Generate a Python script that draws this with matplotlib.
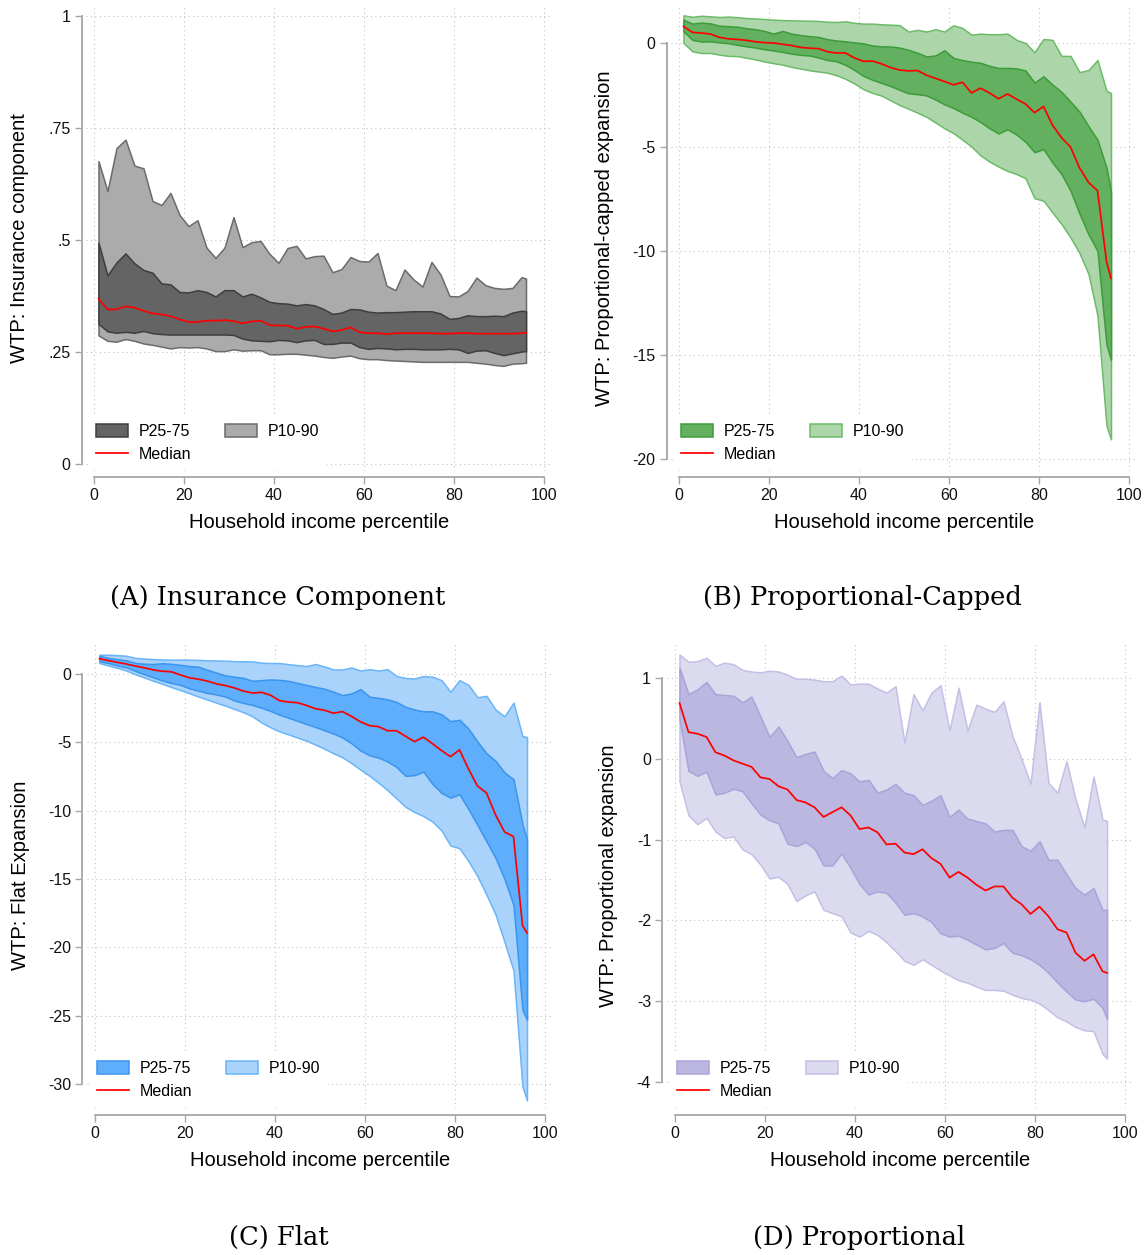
import matplotlib
matplotlib.use("Agg")
import matplotlib.pyplot as plt
import numpy as np

plt.rcParams["font.family"] = ["Liberation Sans", "DejaVu Sans"]

# percentile grid (household income percentile)
pct = list(range(1, 96, 2)) + [96]

# (A) insurance component
a_p90 = [0.676, 0.609, 0.705, 0.724, 0.666, 0.660, 0.587, 0.578, 0.605, 0.556,
         0.531, 0.544, 0.483, 0.460, 0.483, 0.551, 0.484, 0.495, 0.498, 0.469,
         0.449, 0.482, 0.487, 0.459, 0.464, 0.465, 0.428, 0.435, 0.462, 0.453,
         0.452, 0.471, 0.398, 0.388, 0.434, 0.412, 0.396, 0.451, 0.423, 0.375,
         0.374, 0.386, 0.416, 0.399, 0.393, 0.391, 0.393, 0.417, 0.414]
a_p75 = [0.494, 0.421, 0.450, 0.470, 0.448, 0.433, 0.427, 0.403, 0.401, 0.384,
         0.383, 0.388, 0.384, 0.374, 0.388, 0.388, 0.374, 0.380, 0.372, 0.362,
         0.359, 0.358, 0.354, 0.357, 0.354, 0.346, 0.335, 0.338, 0.346, 0.345,
         0.340, 0.338, 0.339, 0.339, 0.340, 0.341, 0.341, 0.341, 0.336, 0.324,
         0.326, 0.332, 0.330, 0.330, 0.331, 0.330, 0.338, 0.342, 0.341]
a_med = [0.369, 0.345, 0.345, 0.352, 0.349, 0.342, 0.336, 0.334, 0.330, 0.323,
         0.317, 0.317, 0.320, 0.320, 0.321, 0.319, 0.314, 0.318, 0.320, 0.310,
         0.309, 0.309, 0.302, 0.306, 0.307, 0.302, 0.296, 0.299, 0.305, 0.294,
         0.292, 0.292, 0.290, 0.292, 0.292, 0.292, 0.292, 0.292, 0.291, 0.291,
         0.292, 0.292, 0.291, 0.291, 0.291, 0.291, 0.291, 0.292, 0.293]
a_p25 = [0.313, 0.296, 0.293, 0.295, 0.293, 0.297, 0.292, 0.290, 0.289, 0.289,
         0.289, 0.289, 0.289, 0.289, 0.289, 0.288, 0.280, 0.276, 0.275, 0.274,
         0.277, 0.276, 0.272, 0.276, 0.277, 0.268, 0.268, 0.271, 0.271, 0.261,
         0.257, 0.259, 0.258, 0.256, 0.257, 0.257, 0.256, 0.256, 0.256, 0.257,
         0.256, 0.248, 0.253, 0.254, 0.248, 0.243, 0.247, 0.251, 0.252]
a_p10 = [0.287, 0.275, 0.273, 0.279, 0.275, 0.269, 0.266, 0.262, 0.258, 0.261,
         0.260, 0.261, 0.258, 0.252, 0.252, 0.256, 0.253, 0.254, 0.254, 0.245,
         0.245, 0.246, 0.246, 0.244, 0.242, 0.239, 0.237, 0.240, 0.242, 0.236,
         0.234, 0.234, 0.232, 0.231, 0.230, 0.229, 0.228, 0.228, 0.228, 0.228,
         0.228, 0.228, 0.226, 0.224, 0.221, 0.219, 0.224, 0.225, 0.226]

# (B) proportional-capped expansion
b_p90 = [1.33, 1.26, 1.31, 1.28, 1.25, 1.27, 1.24, 1.20, 1.18, 1.15,
         1.12, 1.10, 1.09, 1.08, 1.07, 1.06, 1.02, 1.01, 1.04, 0.97,
         0.93, 0.93, 0.90, 0.88, 0.86, 0.55, 0.63, 0.55, 0.66, 0.55,
         0.85, 0.72, 0.40, 0.45, 0.42, 0.42, 0.45, 0.15, 0.00, -0.45,
         0.19, 0.15, -0.62, -0.62, -1.40, -1.30, -0.82, -2.30, -2.41]
b_p75 = [1.12, 0.93, 0.98, 0.94, 0.83, 0.81, 0.78, 0.71, 0.66, 0.58,
         0.45, 0.58, 0.45, 0.38, 0.33, 0.29, 0.18, 0.12, 0.08, 0.03,
         -0.02, -0.12, -0.16, -0.17, -0.22, -0.33, -0.47, -0.65, -0.60, -0.35,
         -0.72, -0.82, -0.90, -0.95, -1.10, -1.20, -1.20, -1.22, -1.32, -1.90,
         -1.60, -2.00, -2.35, -2.82, -3.30, -4.00, -4.65, -6.00, -7.14]
b_med = [0.80, 0.51, 0.48, 0.43, 0.27, 0.20, 0.17, 0.13, 0.06, 0.02,
         0.00, -0.06, -0.12, -0.21, -0.25, -0.27, -0.42, -0.48, -0.48, -0.72,
         -0.88, -0.87, -1.00, -1.18, -1.30, -1.34, -1.32, -1.55, -1.70, -1.85,
         -2.01, -1.89, -2.40, -2.17, -2.40, -2.68, -2.45, -2.70, -2.93, -3.35,
         -3.05, -3.95, -4.55, -5.00, -6.00, -6.70, -7.10, -10.5, -11.32]
b_p25 = [0.56, 0.15, 0.07, 0.08, 0.03, -0.01, -0.09, -0.16, -0.22, -0.30,
         -0.36, -0.43, -0.51, -0.57, -0.60, -0.70, -0.82, -0.88, -1.05, -1.30,
         -1.58, -1.77, -1.92, -2.07, -2.25, -2.42, -2.46, -2.52, -2.72, -2.95,
         -3.13, -3.35, -3.55, -3.80, -4.10, -4.35, -4.15, -4.40, -4.75, -5.25,
         -5.10, -5.75, -6.30, -7.10, -8.20, -9.20, -10.0, -14.5, -15.24]
b_p10 = [0.00, -0.40, -0.48, -0.48, -0.56, -0.62, -0.63, -0.71, -0.79, -0.89,
         -0.97, -1.04, -1.15, -1.23, -1.31, -1.37, -1.43, -1.55, -1.72, -1.95,
         -2.22, -2.40, -2.53, -2.75, -2.98, -3.16, -3.35, -3.55, -3.82, -4.10,
         -4.33, -4.65, -4.98, -5.40, -5.70, -5.94, -6.15, -6.30, -6.50, -7.46,
         -7.58, -8.15, -8.70, -9.35, -10.1, -11.1, -13.1, -18.4, -19.05]

# (C) flat expansion
c_p90 = [1.41, 1.41, 1.38, 1.33, 1.18, 1.13, 1.09, 1.06, 1.05, 1.05,
         1.05, 1.03, 1.00, 0.99, 0.97, 0.94, 0.93, 0.92, 0.83, 0.80,
         0.80, 0.72, 0.65, 0.58, 0.73, 0.55, 0.33, 0.33, 0.47, 0.25,
         0.35, 0.25, 0.35, -0.15, -0.29, -0.33, -0.15, -0.20, -0.45, -1.30,
         -0.45, -0.80, -1.70, -1.60, -2.60, -3.10, -2.10, -4.55, -4.61]
c_p75 = [1.34, 1.17, 1.08, 1.00, 0.81, 0.75, 0.73, 0.79, 0.74, 0.67,
         0.58, 0.53, 0.30, 0.10, -0.10, -0.20, -0.29, -0.50, -0.45, -0.40,
         -0.43, -0.50, -0.65, -0.80, -0.95, -1.08, -1.30, -1.55, -1.42, -1.10,
         -1.66, -1.75, -1.85, -2.05, -2.40, -2.60, -2.73, -2.73, -2.95, -3.45,
         -3.35, -4.00, -4.95, -5.80, -6.35, -7.20, -7.70, -11.0, -12.12]
c_med = [1.12, 0.98, 0.85, 0.73, 0.58, 0.45, 0.30, 0.20, 0.16, -0.07,
         -0.28, -0.38, -0.52, -0.72, -0.85, -1.02, -1.25, -1.39, -1.34, -1.55,
         -1.95, -2.05, -2.10, -2.30, -2.54, -2.65, -2.87, -2.75, -3.10, -3.50,
         -3.78, -3.85, -4.15, -4.15, -4.55, -4.95, -4.62, -5.10, -5.60, -6.05,
         -5.55, -6.95, -8.20, -8.70, -10.3, -11.55, -11.9, -18.4, -18.95]
c_p25 = [0.93, 0.80, 0.62, 0.48, 0.22, -0.02, -0.25, -0.48, -0.66, -0.80,
         -1.05, -1.22, -1.39, -1.50, -1.65, -1.95, -2.12, -2.27, -2.47, -2.70,
         -2.98, -3.20, -3.43, -3.66, -3.88, -4.12, -4.36, -4.65, -5.07, -5.60,
         -5.95, -6.12, -6.40, -6.80, -7.45, -7.40, -7.15, -8.05, -8.70, -9.05,
         -8.80, -9.90, -11.05, -12.25, -13.45, -15.0, -16.9, -24.6, -25.3]
c_p10 = [0.80, 0.62, 0.45, 0.25, -0.02, -0.26, -0.50, -0.72, -0.96, -1.18,
         -1.41, -1.65, -1.87, -2.10, -2.32, -2.56, -2.80, -3.10, -3.55, -3.90,
         -4.20, -4.42, -4.65, -4.88, -5.17, -5.47, -5.80, -6.10, -6.52, -7.00,
         -7.45, -7.95, -8.50, -9.10, -9.72, -10.10, -10.40, -10.80, -11.45, -12.55,
         -12.75, -13.70, -14.80, -16.15, -17.60, -19.6, -21.7, -30.2, -31.2]

# (D) proportional expansion
d_p90 = [1.29, 1.20, 1.21, 1.25, 1.15, 1.19, 1.17, 1.10, 1.08, 1.07,
         1.09, 1.08, 1.04, 0.99, 0.99, 0.98, 0.96, 0.96, 1.03, 0.92,
         0.93, 0.93, 0.87, 0.82, 0.90, 0.20, 0.80, 0.60, 0.82, 0.91,
         0.35, 0.88, 0.35, 0.67, 0.62, 0.58, 0.71, 0.28, 0.00, -0.31,
         0.70, -0.30, -0.42, -0.03, -0.50, -0.85, -0.22, -0.75, -0.77]
d_p75 = [1.13, 0.80, 0.86, 0.95, 0.80, 0.79, 0.78, 0.70, 0.77, 0.52,
         0.27, 0.40, 0.22, 0.02, 0.06, 0.09, -0.15, -0.24, -0.14, -0.18,
         -0.28, -0.26, -0.42, -0.38, -0.31, -0.42, -0.45, -0.57, -0.52, -0.45,
         -0.72, -0.63, -0.74, -0.77, -0.80, -0.90, -0.88, -0.88, -1.08, -1.14,
         -1.02, -1.25, -1.25, -1.43, -1.60, -1.68, -1.60, -1.87, -1.87]
d_med = [0.69, 0.33, 0.31, 0.27, 0.08, 0.04, -0.02, -0.06, -0.10, -0.23,
         -0.25, -0.34, -0.38, -0.51, -0.54, -0.60, -0.72, -0.66, -0.60, -0.70,
         -0.87, -0.85, -0.91, -1.06, -1.05, -1.16, -1.18, -1.12, -1.23, -1.30,
         -1.47, -1.40, -1.47, -1.56, -1.63, -1.58, -1.58, -1.72, -1.80, -1.92,
         -1.83, -1.95, -2.11, -2.15, -2.40, -2.50, -2.42, -2.63, -2.65]
d_p25 = [0.49, -0.15, -0.21, -0.16, -0.44, -0.42, -0.37, -0.40, -0.55, -0.69,
         -0.76, -0.80, -1.05, -1.08, -1.03, -1.11, -1.32, -1.32, -1.17, -1.35,
         -1.55, -1.68, -1.64, -1.66, -1.78, -1.93, -1.91, -1.95, -2.02, -2.16,
         -2.20, -2.19, -2.24, -2.30, -2.36, -2.34, -2.28, -2.40, -2.43, -2.48,
         -2.55, -2.65, -2.77, -2.88, -2.98, -3.00, -2.97, -3.08, -3.22]
d_p10 = [-0.28, -0.70, -0.81, -0.73, -0.90, -0.98, -0.96, -1.12, -1.18, -1.31,
         -1.48, -1.46, -1.55, -1.76, -1.69, -1.64, -1.87, -1.91, -1.95, -2.15,
         -2.20, -2.13, -2.18, -2.27, -2.38, -2.50, -2.55, -2.48, -2.55, -2.62,
         -2.68, -2.74, -2.77, -2.82, -2.86, -2.86, -2.87, -2.92, -2.96, -2.98,
         -3.03, -3.11, -3.20, -3.25, -3.32, -3.36, -3.37, -3.65, -3.71]

W, H = 1147, 1255
fig = plt.figure(figsize=(W / 100, H / 100), dpi=100)

AXIS_GRAY = "#a6a6a6"
GRID_GRAY = "#c4c4c4"


def make_panel(box, xpx, ypx, yticks, yticklabels, bands, colors, ylabel,
               caption, cap_y, ylab_x, spine_off):
    # box = (left, top, right, bottom) in pixels; xpx = pixel of x=0 and x=100
    # ypx = ((val, px), (val, px)) anchor pairs for the y axis
    left, top, right, bottom = box
    ax = fig.add_axes([left / W, 1 - bottom / H, (right - left) / W, (bottom - top) / H])
    sx = (xpx[1] - xpx[0]) / 100.0
    ax.set_xlim((left - xpx[0]) / sx, (right - xpx[0]) / sx)
    (v1, p1), (v2, p2) = ypx
    sy = (p2 - p1) / (v1 - v2)
    ax.set_ylim(v1 - (bottom - p1) / sy, v1 + (p1 - top) / sy)

    p10, p25, med, p75, p90 = bands
    light_face, light_edge, dark_face, dark_edge = colors
    h_light = ax.fill_between(pct, p10, p90, facecolor=light_face,
                              edgecolor=light_edge, linewidth=1.1, zorder=2)
    h_dark = ax.fill_between(pct, p25, p75, facecolor=dark_face,
                             edgecolor=dark_edge, linewidth=1.1, zorder=3)
    h_med, = ax.plot(pct, med, color="#ff0000", linewidth=1.25, zorder=4)

    ax.set_xticks([0, 20, 40, 60, 80, 100])
    ax.set_yticks(yticks)
    ax.set_yticklabels(yticklabels)
    ax.grid(True, linestyle=(0, (1, 3)), color=GRID_GRAY, linewidth=0.8)
    ax.set_axisbelow(True)
    for s in ("top", "right"):
        ax.spines[s].set_visible(False)
    ax.spines["left"].set_position(("outward", spine_off[0]))
    ax.spines["bottom"].set_position(("outward", spine_off[1]))
    ax.spines["left"].set_bounds(min(yticks), max(yticks))
    ax.spines["bottom"].set_bounds(0, 100)
    for s in ("left", "bottom"):
        ax.spines[s].set_color(AXIS_GRAY)
        ax.spines[s].set_linewidth(1.3)
    ax.tick_params(length=5, width=1.0, color=AXIS_GRAY, labelsize=11.5, pad=3,
                   labelcolor="#111111")

    ax.set_xlabel("Household income percentile", fontsize=14.5)
    ax.xaxis.set_label_coords(((xpx[0] + xpx[1]) / 2 - left) / (right - left),
                              (bottom - (bottom + 52)) / (bottom - top))
    ax.xaxis.label.set_verticalalignment("center")
    ax.set_ylabel(ylabel, fontsize=14.5)
    ax.yaxis.set_label_coords((ylab_x - left) / (right - left), 0.5)
    ax.yaxis.label.set_verticalalignment("center")

    leg = ax.legend([h_dark, h_med, h_light], ["P25-75", "Median", "P10-90"],
                    ncol=2, loc="lower left", bbox_to_anchor=(0.002, 0.0),
                    fontsize=11.5, frameon=True, framealpha=1, facecolor="white",
                    edgecolor="none", fancybox=False, borderaxespad=0.1,
                    borderpad=0.45, handlelength=2.0, handleheight=0.85,
                    handletextpad=0.7, columnspacing=2.1, labelspacing=0.5)
    leg.set_zorder(5)

    fig.text((xpx[0] + xpx[1]) / 2 / W - 0.036, 1 - cap_y / H, caption,
             ha="center", va="center", fontsize=18.5, family="DejaVu Serif")
    return ax


grey = ("#ababab", "#6b6b6b", "#646464", "#3e3e3e")
green = ("#acd6a9", "#6cbb69", "#63b160", "#3c9c3a")
blue = ("#a9d3fb", "#6ab5f7", "#5eaefb", "#3b95ee")
purple = ("#dcdaef", "#c3c0e6", "#bbb7e0", "#a9a4d9")

make_panel((86, 5, 552, 471), (94, 544), ((1, 16), (0, 464)),
           [0, 0.25, 0.5, 0.75, 1], ["0", ".25", ".5", ".75", "1"],
           (a_p10, a_p25, a_med, a_p75, a_p90), grey,
           "WTP: Insurance component", "(A) Insurance Component", 598, 20, (3, 4.5))

make_panel((671, 5, 1137, 471), (679, 1129), ((0, 43), (-20, 459)),
           [-20, -15, -10, -5, 0], ["-20", "-15", "-10", "-5", "0"],
           (b_p10, b_p25, b_med, b_p75, b_p90), green,
           "WTP: Proportional-capped expansion", "(B) Proportional-Capped", 598, 604, (3, 4.5))

make_panel((87, 643, 553, 1108), (95, 545), ((0, 674), (-30, 1084)),
           [-30, -25, -20, -15, -10, -5, 0], ["-30", "-25", "-20", "-15", "-10", "-5", "0"],
           (c_p10, c_p25, c_med, c_p75, c_p90), blue,
           "WTP: Flat Expansion", "(C) Flat", 1237, 20, (3.5, 5))

make_panel((667, 643, 1133, 1108), (675, 1125), ((1, 678), (-4, 1082)),
           [-4, -3, -2, -1, 0, 1], ["-4", "-3", "-2", "-1", "0", "1"],
           (d_p10, d_p25, d_med, d_p75, d_p90), purple,
           "WTP: Proportional expansion", "(D) Proportional", 1237, 608, (3.5, 5))

fig.savefig("out.png", dpi=100, facecolor="white")
